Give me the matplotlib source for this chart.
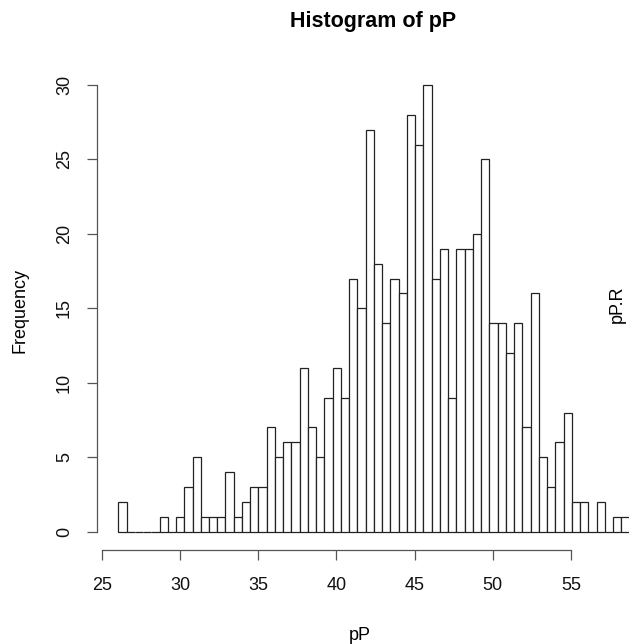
import numpy as np
import matplotlib
matplotlib.use("Agg")
import matplotlib.pyplot as plt

plt.rcParams['font.family'] = ['Liberation Sans', 'DejaVu Sans']

# histogram counts (left to right)
counts = [2, 0, 0, 0, 0, 1, 0, 1, 3, 5, 1, 1, 1, 4, 1, 2, 3, 3, 7, 5,
          6, 6, 11, 7, 5, 9, 11, 9, 17, 15, 27, 18, 14, 17, 16, 28, 26, 30, 17, 19,
          9, 19, 19, 20, 25, 14, 14, 12, 14, 7, 16, 5, 3, 6, 8, 2, 2, 0, 2, 0,
          1, 1]
bin_start = 26.06
bin_width = 0.527
x_ticks = [25, 30, 35, 40, 45, 50, 55]
y_ticks = [0, 5, 10, 15, 20, 25, 30]

edges = bin_start + bin_width * np.arange(len(counts))

W, H = 629, 644
fig = plt.figure(figsize=(W / 100, H / 100), dpi=100)
ax = fig.add_axes([96.7 / W, (H - 550) / H, (W - 96.7) / W, (550 - 66.7) / H])

ax.bar(edges, counts, width=bin_width, align='edge',
       facecolor='white', edgecolor='#222222', linewidth=0.9)

ax.set_xlim(24.68, 58.70)
ax.set_ylim(-1.23, 31.23)

for s in ['top', 'right']:
    ax.spines[s].set_visible(False)
ax.spines['left'].set_bounds(0, 30)
ax.spines['bottom'].set_bounds(25, 55)
for s in ['left', 'bottom']:
    ax.spines[s].set_color('#555555')
    ax.spines[s].set_linewidth(0.9)

ax.set_xticks(x_ticks)
ax.set_yticks(y_ticks)
ax.tick_params(axis='both', length=7, width=0.9, color='#555555',
               labelsize=13, labelcolor='#111111')
ax.tick_params(axis='x', pad=12.5)
ax.tick_params(axis='y', pad=10, labelrotation=90)
for lab in ax.get_yticklabels():
    lab.set_va('center')

fig.text(373.5 / W, 1 - 21.7 / H, 'Histogram of pP', ha='center', va='center',
         fontsize=15.5, fontweight='bold')
fig.text(359.7 / W, 1 - 636 / H, 'pP', ha='center', va='center', fontsize=13)
fig.text(20 / W, 1 - 310 / H, 'Frequency', ha='center', va='center',
         rotation=90, fontsize=13)
# label of the neighbouring panel at the right edge
fig.text(609 / W, 1 - 323 / H, 'pP.R', ha='left', va='bottom',
         rotation=90, fontsize=13)

fig.savefig('out.png', dpi=100)
